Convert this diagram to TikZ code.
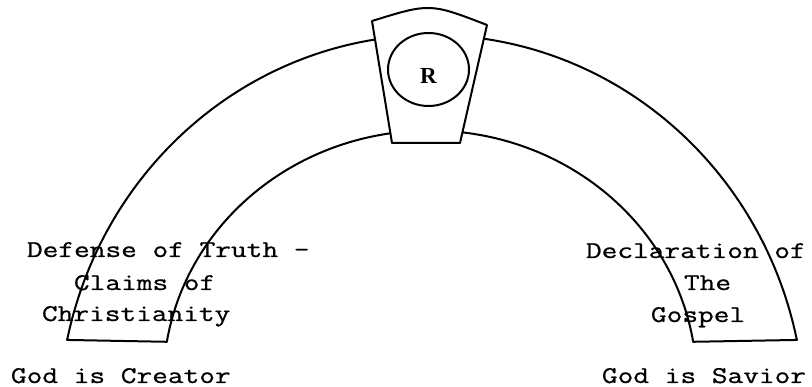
\documentclass[tikz,border=0pt]{standalone}
\usepackage{fontspec}
\setmainfont{Liberation Serif}
\newfontfamily\twfont[FakeBold=0.8,FakeStretch=1.27]{Latin Modern Mono}
\usetikzlibrary{shapes.geometric}
\begin{document}
\begin{tikzpicture}[x=1pt,y=1pt,line width=2pt,line join=round,line cap=round,
  lbl/.style={font=\twfont\fontsize{24}{28}\selectfont,inner sep=0pt,anchor=base west},
  ring/.style={draw,ellipse,minimum width=81pt,minimum height=73pt,inner sep=0pt},
  rlbl/.style={font=\bfseries\fontsize{23}{23}\selectfont,inner sep=0pt}]
\useasboundingbox (0,0) rectangle (812,387);
% centres of the arch curves
\coordinate (OC) at (432,-33);
\coordinate (IC) at (430,5);
\path (OC) ++(168:373 and 385) coordinate (oLb);
\path (OC) ++(98.8:373 and 385) coordinate (oLt);
\path (OC) ++(82:373 and 385) coordinate (oRt);
\path (OC) ++(12:373 and 385) coordinate (oRb);
\path (IC) ++(170.8:266.6 and 251.5) coordinate (iLb);
\path (IC) ++(98.6:266.6 and 251.5) coordinate (iLt);
\path (IC) ++(82.9:266.6 and 251.5) coordinate (iRt);
\path (IC) ++(9.2:266.6 and 251.5) coordinate (iRb);
% outer arch
\draw (oLb) arc[start angle=168,end angle=98.8,x radius=373pt,y radius=385pt];
\draw (oRt) arc[start angle=82,end angle=12,x radius=373pt,y radius=385pt];
% inner arch
\draw (iLb) arc[start angle=170.8,end angle=98.6,x radius=266.6pt,y radius=251.5pt];
\draw (iRt) arc[start angle=82.9,end angle=9.2,x radius=266.6pt,y radius=251.5pt];
% feet
\draw (oLb) -- (iLb);
\draw (iRb) -- (oRb);
% keystone
\coordinate (kTL) at (372,366);
\coordinate (kTR) at (487,362);
\coordinate (kBR) at (460,244);
\coordinate (kBL) at (392,244);
\draw (kTL) .. controls (430,384) .. (kTR) -- (kBR) -- (kBL) -- cycle;
\node[ring] (ring) at (428.5,317.5) {};
\node[rlbl] (R) at (428.5,311.5) {R};
% left texts
\node[lbl] (l1) at (26,130) {Defense of Truth -};
\node[lbl] (l2) at (73,97) {Claims of};
\node[lbl] (l3) at (41,66) {Christianity};
\node[lbl] (l4) at (10,4) {God is Creator};
% right texts
\node[lbl] (r1) at (585,129) {Declaration of};
\node[lbl] (r2) at (683,97) {The};
\node[lbl] (r3) at (650,65) {Gospel};
\node[lbl] (r4) at (601,4) {God is Savior};
\end{tikzpicture}
\end{document}
